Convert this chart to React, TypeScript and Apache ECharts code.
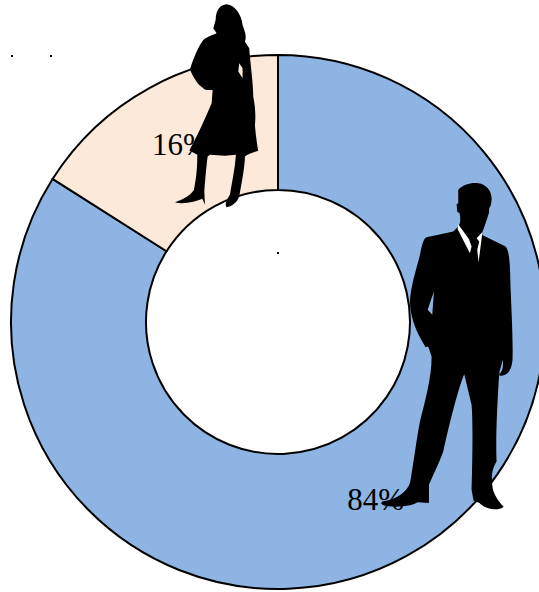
import React, { useEffect, useRef } from "react";
import * as echarts from "echarts";

const categories = ["Men", "Women"];
const shares = [84, 16];
const sliceColors = ["#8DB4E2", "#FDE9D9"];
const labelOffsets = [[-127, 6], [-49, 8]];

const manPath =
  "M250 45 C262 30 290 22 310 25 C335 28 352 50 350 75 C349 90 346 95 343 100 L342 115 C335 135 328 160 322 172 L322 180 L392 215 C402 225 405 260 406 300 C408 380 415 480 413 555 C410 590 395 605 375 603 L373 598 C385 590 385 570 384 555 L374 590 L372 610 C368 680 362 780 365 860 C350 885 350 905 352 930 C354 960 375 985 386 995 C385 1003 365 1005 350 1003 C330 1000 318 990 314 985 L296 978 L290 945 C292 880 295 740 290 690 L268 598 C250 640 225 740 205 830 C190 870 170 910 162 930 L162 985 L128 983 C110 995 70 998 40 995 C15 992 15 982 25 980 C60 975 95 955 105 925 C115 870 125 790 135 740 C150 680 170 610 170 545 L160 515 L152 517 C130 480 108 440 105 385 C105 340 125 280 135 240 C140 215 145 190 155 187 L235 170 L250 155 C256 145 258 135 254 115 L247 110 L245 88 L250 85 Z " +
  "M177 350 L158 405 L172 420 Z";
const manShirtLeft = "M250 148 L282 192 L290 215 L285 235 L248 162 Z";
const manShirtRight = "M322 172 L321 185 L311 262 L307 225 L313 200 L305 190 Z";
const womanPath =
  "M170 13 C195 15 215 45 218 75 C222 90 232 105 225 125 L238 145 C240 180 250 250 250 290 C256 320 258 350 255 375 C258 410 262 435 265 453 C240 460 232 465 225 470 C225 500 215 550 208 590 C200 610 185 620 170 622 C163 615 170 600 180 585 C185 550 195 510 198 465 L165 468 L120 465 L113 470 C108 510 105 550 103 575 L105 615 L97 597 C80 605 40 615 15 608 C35 600 60 590 72 570 C80 530 82 500 82 465 L58 452 C75 420 100 370 125 310 L128 270 C118 270 105 272 100 265 C85 255 70 235 60 208 C70 175 85 140 100 120 C115 108 130 105 140 100 L130 85 L137 60 C138 30 150 15 170 13 Z " +
  "M112 175 L127 200 L128 236 L108 240 L90 205 Z M208 190 L205 215 L218 235 L218 205 Z";

echarts.graphic.registerShape("manFigure", echarts.graphic.extendPath(manPath, {}));
echarts.graphic.registerShape("manShirtLeft", echarts.graphic.extendPath(manShirtLeft, {}));
echarts.graphic.registerShape("manShirtRight", echarts.graphic.extendPath(manShirtRight, {}));
echarts.graphic.registerShape("womanFigure", echarts.graphic.extendPath(womanPath, {}));

const specks = [[11, 55], [50, 55], [277, 252]];

export default function App() {
  const ref = useRef<HTMLDivElement>(null);
  useEffect(() => {
    const chart = echarts.init(ref.current!, null, { renderer: "svg" });
    const third = 1 / 3;
    chart.setOption({
      animation: false,
      backgroundColor: "#ffffff",
      series: [
        {
          type: "pie",
          center: [278, 322],
          radius: [132, 267],
          startAngle: 90,
          clockwise: true,
          avoidLabelOverlap: false,
          silent: true,
          data: categories.map((name, i) => ({
            name,
            value: shares[i],
            itemStyle: { color: sliceColors[i] },
            labelLayout: { dx: labelOffsets[i][0], dy: labelOffsets[i][1] },
          })),
          itemStyle: { borderColor: "#000000", borderWidth: 2 },
          label: {
            show: true,
            position: "inside",
            formatter: "{d}%",
            fontFamily: "Liberation Serif",
            fontSize: 31,
            color: "#000000",
          },
          labelLine: { show: false },
        },
      ],
      graphic: [
        { type: "manFigure", x: 375, y: 175, scaleX: third, scaleY: third, style: { fill: "#000000" }, z: 10 },
        { type: "manShirtLeft", x: 375, y: 175, scaleX: third, scaleY: third, style: { fill: "#ffffff" }, z: 11 },
        { type: "manShirtRight", x: 375, y: 175, scaleX: third, scaleY: third, style: { fill: "#ffffff" }, z: 11 },
        { type: "womanFigure", x: 170, y: 0, scaleX: third, scaleY: third, style: { fill: "#000000" }, z: 10 },
        ...specks.map(([x, y]) => ({
          type: "rect",
          shape: { x, y, width: 2, height: 2 },
          style: { fill: "#000000" },
          z: 12,
        })),
      ],
    });
    return () => chart.dispose();
  }, []);
  return (
    <div
      ref={ref}
      style={{ position: "absolute", left: 0, top: 0, width: 539, height: 592 }}
    />
  );
}
